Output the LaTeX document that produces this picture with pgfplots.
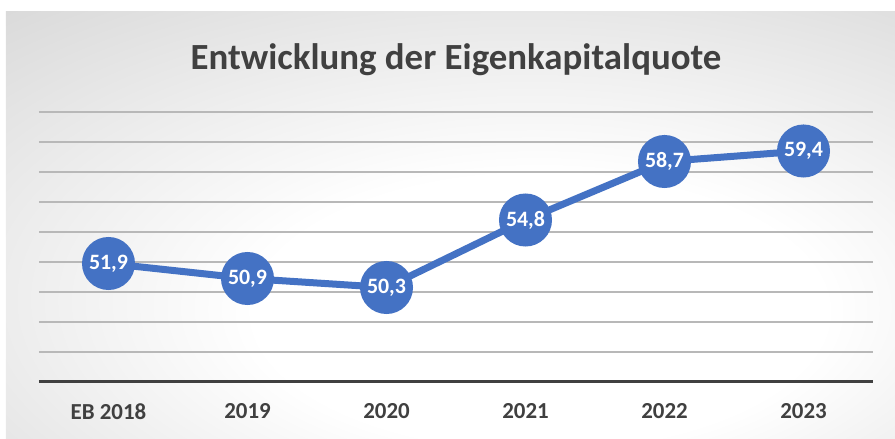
\documentclass[border=0pt]{standalone}
\usepackage{pgfplots}
\pgfplotsset{compat=1.18}
\usepackage{fontspec}
\setmainfont{Carlito}
\definecolor{serie}{HTML}{4472C4}
\definecolor{dunkel}{HTML}{404040}
\definecolor{rand}{HTML}{D0D0D0}
\definecolor{ecke}{HTML}{BEBEBE}
\pgfdeclareradialshading{hinter}{\pgfpoint{6bp}{-12bp}}{%
  color(0bp)=(white); color(16bp)=(white); color(50bp)=(rand); color(75bp)=(ecke); color(100bp)=(ecke)}
\begin{document}
\begin{tikzpicture}
\begin{axis}[
  set layers,
  scale only axis,
  width=834bp, height=270bp,
  xmin=-0.5, xmax=5.5,
  ymin=44, ymax=62,
  ytick={44,46,...,62},
  yticklabels={},
  ymajorgrids,
  major grid style={draw=black!28, line width=1.2bp},
  axis x line*=bottom,
  axis y line*=left,
  y axis line style={draw=none},
  x axis line style={draw=dunkel, line width=3bp, -},
  xtick=data,
  xticklabels={EB 2018,2019,2020,2021,2022,2023},
  major tick length=0pt,
  xticklabel style={font=\bfseries\fontsize{23}{26}\selectfont, text=dunkel, yshift=-18bp},
  clip=false,
]
% Hintergrund und Titel
\begin{pgfonlayer}{axis background}
\shade[shading=hinter]
  (rel axis cs:-0.03957,-0.2111) rectangle (rel axis cs:1.02638,1.37037);
\end{pgfonlayer}
\path (rel axis cs:-0.04676,-0.2111) rectangle (rel axis cs:1.02638,1.41481);
\node[font=\bfseries\fontsize{37}{42}\selectfont, text=dunkel]
  at (rel axis cs:0.5,1.1926) {Entwicklung der Eigenkapitalquote};
\addplot[
  serie, line width=7bp,
  mark=*, mark size=23bp, mark options={fill=serie, draw=none},
  nodes near coords,
  every node near coord/.append style={anchor=center, text=white,
    font=\bfseries\fontsize{22}{26}\selectfont},
  nodes near coords style={/pgf/number format/.cd, use comma, fixed, fixed zerofill, precision=1, assume math mode=true},
] coordinates {
  (0,51.9) (1,50.9) (2,50.3) (3,54.8) (4,58.7) (5,59.4)
};
\end{axis}
\end{tikzpicture}
\end{document}
